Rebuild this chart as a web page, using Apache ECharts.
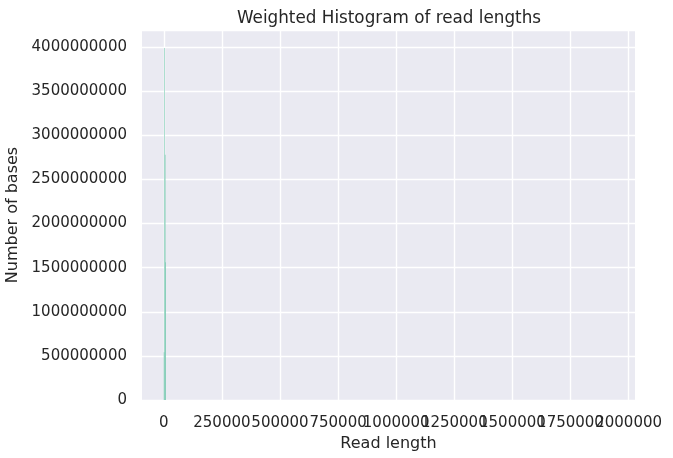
<!DOCTYPE html>
<html>
<head>
<meta charset="utf-8">
<script src="https://cdn.jsdelivr.net/npm/echarts@6/dist/echarts.min.js"></script>
<style>
html,body{margin:0;padding:0;background:#fff;}
#c{width:673px;height:458px;}
</style>
</head>
<body>
<div id="c"></div>
<script>
// Histogram bins (read length in bp) and weighted counts (number of bases)
const binStarts = [0, 2300, 4600, 6900];
const binWidth = 2300;
const binHeights = [540000000, 3990000000, 2780000000, 1560000000];
const xTicks = [0, 250000, 500000, 750000, 1000000, 1250000, 1500000, 1750000, 2000000];
const yTicks = [0, 500000000, 1000000000, 1500000000, 2000000000, 2500000000, 3000000000, 3500000000, 4000000000];

const data = binStarts.map((s, i) => [s, s + binWidth, binHeights[i]]);
const font = 'DejaVu Sans';
const txt = '#262626';
const xMin = -93800, xMax = 2027500;
const evenTicks = xTicks.filter((v, i) => i % 2 === 0);
const oddTicks = xTicks.filter((v, i) => i % 2 === 1);

const chart = echarts.init(document.getElementById('c'), null, {renderer: 'canvas'});
const xLabel = {fontFamily: font, fontSize: 15, color: txt, margin: 16, hideOverlap: false, formatter: v => String(v)};
const gridLine = {show: true, lineStyle: {color: '#ffffff', width: 1.4}};
chart.setOption({
  animation: false,
  backgroundColor: '#ffffff',
  title: {
    text: 'Weighted Histogram of read lengths',
    left: 384, top: 5, textAlign: 'center',
    textStyle: {fontFamily: font, fontSize: 16.8, fontWeight: 'normal', color: txt}
  },
  grid: {left: 142, right: 38, top: 30, bottom: 58, show: true, backgroundColor: '#eaeaf2', borderWidth: 0,
    containLabel: false, outerBoundsMode: 'none'},
  xAxis: [{
    type: 'value', position: 'bottom',
    min: xMin, max: xMax,
    axisLine: {show: false}, axisTick: {show: false, customValues: xTicks},
    axisLabel: Object.assign({customValues: evenTicks}, xLabel),
    splitLine: gridLine,
    name: 'Read length', nameLocation: 'middle', nameGap: 33,
    nameTextStyle: {fontFamily: font, fontSize: 16, color: txt}
  }, {
    type: 'value', position: 'bottom', offset: 0,
    min: xMin, max: xMax,
    axisLine: {show: false}, axisTick: {show: false, customValues: oddTicks},
    axisLabel: Object.assign({customValues: oddTicks}, xLabel),
    splitLine: {show: false}
  }],
  yAxis: {
    type: 'value',
    min: 0, max: 4193000000, interval: 500000000,
    axisLine: {show: false}, axisTick: {show: false},
    axisLabel: {fontFamily: font, fontSize: 15, color: txt, margin: 15,
      formatter: v => (yTicks.indexOf(v) >= 0 ? String(v) : '')},
    splitLine: gridLine,
    name: 'Number of bases', nameLocation: 'middle', nameGap: 106,
    nameTextStyle: {fontFamily: font, fontSize: 16, color: txt}
  },
  series: [{
    type: 'custom',
    xAxisIndex: 0,
    z: 5,
    data: data,
    encode: {x: [0, 1], y: 2},
    renderItem: (params, api) => {
      const p0 = api.coord([api.value(0), api.value(2)]);
      const p1 = api.coord([api.value(1), 0]);
      return {
        type: 'rect',
        shape: {x: p0[0], y: p0[1], width: p1[0] - p0[0], height: p1[1] - p0[1]},
        style: {fill: '#66c2a5'}
      };
    }
  }]
});
</script>
</body>
</html>
